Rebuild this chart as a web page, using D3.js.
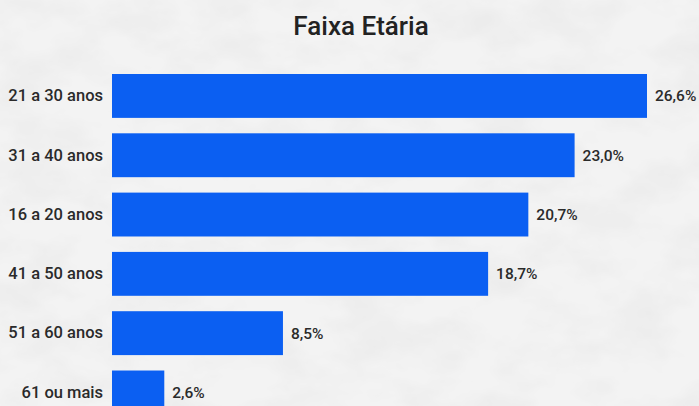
<!DOCTYPE html>
<html>
<head>
<meta charset="utf-8">
<script src="https://cdn.jsdelivr.net/npm/d3@7"></script>
<style>
  html, body { margin: 0; padding: 0; background: #e9e9e9; }
  #chart { width: 699px; height: 406px; }
</style>
</head>
<body>
<div id="chart"></div>
<script>
const categories = ["21 a 30 anos", "31 a 40 anos", "16 a 20 anos", "41 a 50 anos", "51 a 60 anos", "61 ou mais"];
const values = [26.6, 23.0, 20.7, 18.7, 8.5, 2.6];
const title = "Faixa Etária";

const width = 699;
const height = 406;
const margin = { top: 74, left: 112 };
const font = "Roboto, 'DejaVu Sans', sans-serif";

const svg = d3.select("#chart")
    .append("svg")
    .attr("width", width)
    .attr("height", height);

// marble-ish paper background
const defs = svg.append("defs");
const filter = defs.append("filter")
    .attr("id", "paper")
    .attr("x", 0).attr("y", 0).attr("width", "100%").attr("height", "100%");
filter.append("feTurbulence")
    .attr("type", "fractalNoise")
    .attr("baseFrequency", "0.015 0.025")
    .attr("numOctaves", 4)
    .attr("seed", 7)
    .attr("result", "noise");
filter.append("feColorMatrix")
    .attr("in", "noise")
    .attr("type", "matrix")
    .attr("values", "0 0 0 0 0.84  0 0 0 0 0.84  0 0 0 0 0.84  2.4 0 0 0 -0.95")
    .attr("result", "tint");
filter.append("feComposite").attr("in", "tint").attr("in2", "SourceGraphic").attr("operator", "over");

svg.append("rect")
    .attr("width", width)
    .attr("height", height)
    .attr("fill", "#f3f3f3")
    .attr("filter", "url(#paper)");

svg.append("text")
    .attr("x", 361)
    .attr("y", 35)
    .attr("text-anchor", "middle")
    .attr("fill", "#222")
    .style("font-family", font)
    .style("font-size", "26px")
    .style("font-weight", 500)
    .text(title);

const x = d3.scaleLinear()
    .domain([0, d3.max(values)])
    .range([margin.left, 647]);

const y = d3.scaleBand()
    .domain(categories)
    .range([margin.top, margin.top + 340.4])
    .paddingInner(0.26)
    .paddingOuter(0);

const yAxis = svg.append("g")
    .attr("transform", `translate(${margin.left - 9}, 0)`)
    .call(d3.axisLeft(y).tickSize(0).tickPadding(0));
yAxis.select(".domain").remove();
yAxis.selectAll(".tick text")
    .attr("fill", "#2a2a2a")
    .style("font-family", font)
    .style("font-size", "16.5px")
    .style("font-weight", 500);

const data = categories.map((c, i) => ({ cat: c, value: values[i] }));

svg.selectAll(".bar")
    .data(data)
    .enter()
    .append("rect")
    .attr("class", "bar")
    .attr("x", x(0))
    .attr("y", d => y(d.cat))
    .attr("width", d => x(d.value) - x(0))
    .attr("height", y.bandwidth())
    .attr("fill", "#0b5ff2");

const fmt = v => v.toFixed(1).replace(".", ",") + "%";

svg.selectAll(".val")
    .data(data)
    .enter()
    .append("text")
    .attr("class", "val")
    .attr("x", d => x(d.value) + 8)
    .attr("y", d => y(d.cat) + y.bandwidth() / 2)
    .attr("dy", "0.35em")
    .attr("fill", "#2a2a2a")
    .style("font-family", font)
    .style("font-size", "15.5px")
    .style("font-weight", 500)
    .text(d => fmt(d.value));
</script>
</body>
</html>
